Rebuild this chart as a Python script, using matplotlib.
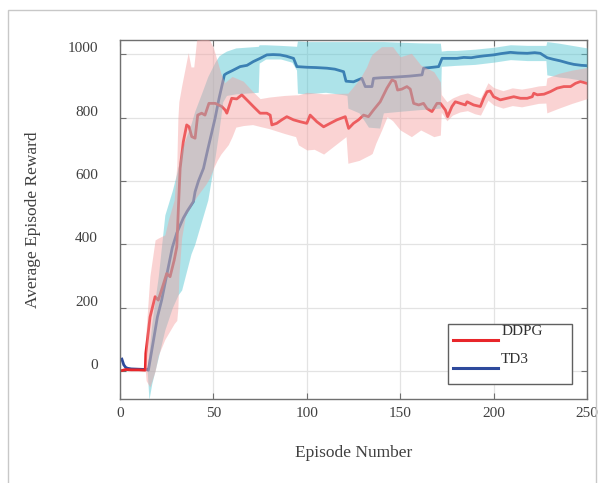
import matplotlib
matplotlib.use('Agg')
import matplotlib.pyplot as plt
import matplotlib.transforms as mtransforms
from matplotlib.patches import Rectangle
from matplotlib.lines import Line2D

# ---- data ----
ddpg_ep = [1, 3, 6, 10, 13.5, 13.8, 16.1, 18.8, 20.5, 23, 25, 26.8, 29, 30.4, 31.3, 32.2, 33.9, 35.7, 37, 38.4,
           40.2, 41.6, 43.7, 45.5, 47.6, 51, 54.5, 56.3, 57.2, 59.8, 62.5, 65.2, 67.9, 71.4, 75, 78.6, 80.4, 81.3,
           83.9, 86.6, 89.3, 92.9, 96.5, 100, 101.8, 105.4, 109, 112.5, 116.1, 120.6, 122.4, 125, 127.7, 130.4,
           133, 135.7, 139.3, 142.9, 145.6, 147.4, 148.6, 150.9, 153.6, 155.4, 157.2, 159.9, 162.5, 164.3, 167,
           169.7, 171.5, 174.2, 175.4, 177.7, 179.5, 182.2, 184.9, 185.8, 189.3, 192.9, 194.7, 196.5, 198.2, 200,
           203.6, 207.2, 210.8, 214.4, 218, 220.7, 221.5, 223.4, 227, 230.4, 234, 237.6, 241.2, 243.8, 246.5, 250]
ddpg_mean = [2, 5, 4, 4, 3, 56, 171, 235, 224, 270, 308, 298, 350, 392, 520, 640, 724, 777, 771, 740,
             735, 808, 814, 808, 845, 845, 835, 824, 814, 861, 859, 872, 856, 835, 814, 814, 808, 777,
             782, 793, 803, 793, 787, 782, 808, 787, 771, 782, 793, 803, 766, 782, 793, 808,
             803, 824, 850, 893, 919, 914, 887, 890, 898, 890, 845, 840, 845, 829, 819,
             845, 845, 824, 803, 835, 850, 845, 840, 850, 840, 835, 861, 882, 884, 866,
             856, 861, 866, 861, 861, 866, 877, 872, 874, 882, 893, 898, 898, 908, 914, 908]

ddpg_band_ep = [13.5, 14, 16, 18.8, 20.5, 24, 26, 28, 29, 30.4, 31, 31.5, 33, 35, 36.5, 38, 39.5, 41, 46, 48,
                50, 52, 54, 56, 58, 60, 62, 66, 71, 75, 80, 88, 94, 95.5, 100, 104, 109, 114, 121, 122,
                128, 129, 132, 134, 135, 137, 140, 143, 146, 150, 156, 161, 168, 171.5, 172, 175, 178, 182,
                186, 190, 193, 197, 200, 205, 210, 215, 220, 224, 228, 228.5, 235, 242, 250]
ddpg_lo = [3, -30, -50, 0, 50, 100, 120, 140, 150, 160, 200, 300, 420, 490, 505, 520, 535, 550, 590, 610,
           640, 665, 685, 700, 715, 740, 770, 775, 778, 772, 765, 750, 740, 714, 698, 700, 685, 708, 740, 656,
           665, 668, 677, 683, 687, 720, 760, 803, 790, 761, 740, 761, 740, 745, 817, 790, 808, 818,
           822, 812, 808, 855, 840, 830, 838, 834, 840, 845, 846, 815, 830, 845, 860]
ddpg_hi = [3, 130, 300, 414, 420, 430, 480, 520, 540, 650, 800, 850, 900, 960, 1005, 960, 960, 1045, 1048, 1045,
           1020, 980, 940, 910, 920, 930, 925, 915, 883, 860, 865, 870, 872, 872, 880, 878, 875, 876, 877, 877,
           920, 929, 960, 990, 1000, 1010, 1024, 1024, 1024, 992, 1003, 966, 945, 913, 873, 850, 862, 872,
           878, 868, 862, 910, 895, 885, 894, 890, 895, 900, 902, 925, 940, 950, 958]

td3_ep = [1, 2, 3, 4, 6, 10, 14.5, 15.2, 18, 20, 22.3, 25.9, 28, 30.4, 33.9, 36, 39.3, 40.2, 42, 44.7, 47, 49,
          50.9, 53, 55.9, 57.2, 60, 64.3, 68, 71.4, 75, 78.6, 82, 85.7, 89, 92.9, 94.7, 100, 105, 110.8, 115,
          119.7, 121, 125, 129.5, 131.3, 134.9, 135.7, 140, 145, 150, 155, 161.7, 162.5, 166, 170.6, 172.4,
          176, 180.4, 184, 188, 191, 195, 200, 204, 209, 213, 218, 222, 225, 228.7, 232, 235.8, 240, 243, 247, 250]
td3_mean = [38, 20, 12, 9, 7, 6, 5, 3, 100, 170, 224, 329, 390, 436, 483, 505, 535, 566, 600, 640, 700, 750,
            798, 860, 935, 940, 948, 961, 965, 977, 987, 998, 999, 998, 994, 987, 961, 959, 958, 956, 953,
            945, 915, 913, 924, 898, 898, 924, 926, 927, 929, 931, 935, 956, 958, 961, 987,
            987, 987, 990, 989, 992, 995, 998, 1002, 1006, 1004, 1003, 1005, 1003, 989, 984, 979, 972, 968, 965, 964]

td3_band_ep = [14.5, 15.5, 17, 20.5, 24, 28, 31, 33, 38, 40, 44, 47, 51, 53, 55, 57, 62, 74, 74.5, 78, 86, 92,
               94.5, 95, 100, 110, 120, 121.5, 122, 128, 133, 139, 141, 150, 160, 171.5, 172, 175, 180, 190,
               200, 209, 218, 228, 228.5, 235, 240, 250]
td3_lo = [5, -90, -40, 44, 130, 200, 240, 256, 370, 400, 480, 540, 680, 760, 850, 870, 875, 880, 972, 985, 985, 975,
          950, 877, 875, 880, 872, 870, 830, 815, 770, 767, 815, 820, 825, 830, 962, 963, 965, 968,
          975, 983, 980, 980, 935, 928, 925, 915]
td3_hi = [5, 60, 150, 300, 493, 570, 640, 700, 780, 820, 882, 930, 977, 995, 1003, 1010, 1020, 1025, 1030, 1030, 1028, 1026,
          1025, 1042, 1040, 1040, 1040, 1040, 1040, 1040, 1040, 1040, 1040, 1038, 1036, 1035, 1010, 1012, 1012, 1016,
          1022, 1030, 1028, 1028, 1040, 1035, 1030, 1020]

xticks = [0, 50, 100, 150, 200, 250]
yticks = [0, 200, 400, 600, 800, 1000]

# ---- style ----
plt.rcParams['font.family'] = ['Liberation Serif', 'DejaVu Serif']
txt = '#404040'
red_line = '#e8262a'
blue_line = '#2e4a9c'
red_fill = '#f49f9f'
cyan_fill = '#4bc3d0'

fig = plt.figure(figsize=(6, 4.83), dpi=100)
ax = fig.add_axes([0.2, 0.1739, 0.7783, 0.7433])

# lines first, bands drawn on top with alpha (as in the reference)
ax.plot(td3_ep, td3_mean, color=blue_line, lw=2.0, zorder=2)
ax.plot(ddpg_ep, ddpg_mean, color=red_line, lw=2.0, zorder=2)
ax.fill_between(td3_band_ep, td3_lo, td3_hi, color=cyan_fill, alpha=0.45, lw=0, zorder=3)
ax.fill_between(ddpg_band_ep, ddpg_lo, ddpg_hi, color=red_fill, alpha=0.45, lw=0, zorder=4)

ax.set_xlim(0, 250)
ax.set_ylim(-88, 1045)
ax.set_xticks(xticks)
ax.set_yticks(yticks)
ax.grid(True, color='#e3e3e3', lw=0.9)
ax.set_axisbelow(True)

for s in ax.spines.values():
    s.set_color('#707070')
    s.set_linewidth(1.0)
ax.tick_params(direction='in', length=4, width=0.8, color='#707070', top=True, right=True,
               labelsize=11, labelcolor=txt)
ax.tick_params(axis='y', pad=16)
ax.tick_params(axis='x', pad=6)
# tick labels in the reference sit a little above their ticks
off = mtransforms.ScaledTranslation(0, 5 / 72, fig.dpi_scale_trans)
for lab in ax.get_yticklabels():
    lab.set_transform(lab.get_transform() + off)

ax.set_xlabel('Episode Number', fontsize=12.5, color=txt, labelpad=17.5)
ax.set_ylabel('Average Episode Reward', fontsize=12.5, color=txt, labelpad=19)

# legend drawn by hand, MATLAB style
ax.add_patch(Rectangle((0.702, 0.042), 0.266, 0.167, transform=ax.transAxes, facecolor='white',
                       edgecolor='#606060', lw=1.0, zorder=10))
ax.add_line(Line2D([0.713, 0.809], [0.164, 0.164], transform=ax.transAxes, color=red_line, lw=2.2, zorder=11))
ax.add_line(Line2D([0.713, 0.809], [0.086, 0.086], transform=ax.transAxes, color=blue_line, lw=2.2, zorder=11))
ax.text(0.816, 0.187, 'DDPG', transform=ax.transAxes, fontsize=11, color='#303030', va='center', zorder=12)
ax.text(0.816, 0.109, 'TD3', transform=ax.transAxes, fontsize=11, color='#303030', va='center', zorder=12)

# faint outer frame
fig.patches.append(Rectangle((8 / 600, -0.05), 588 / 600, 1.05 - 10 / 483, transform=fig.transFigure,
                             fill=False, edgecolor='#c8c8c8', lw=1.0))

fig.savefig('out.png', dpi=100)
